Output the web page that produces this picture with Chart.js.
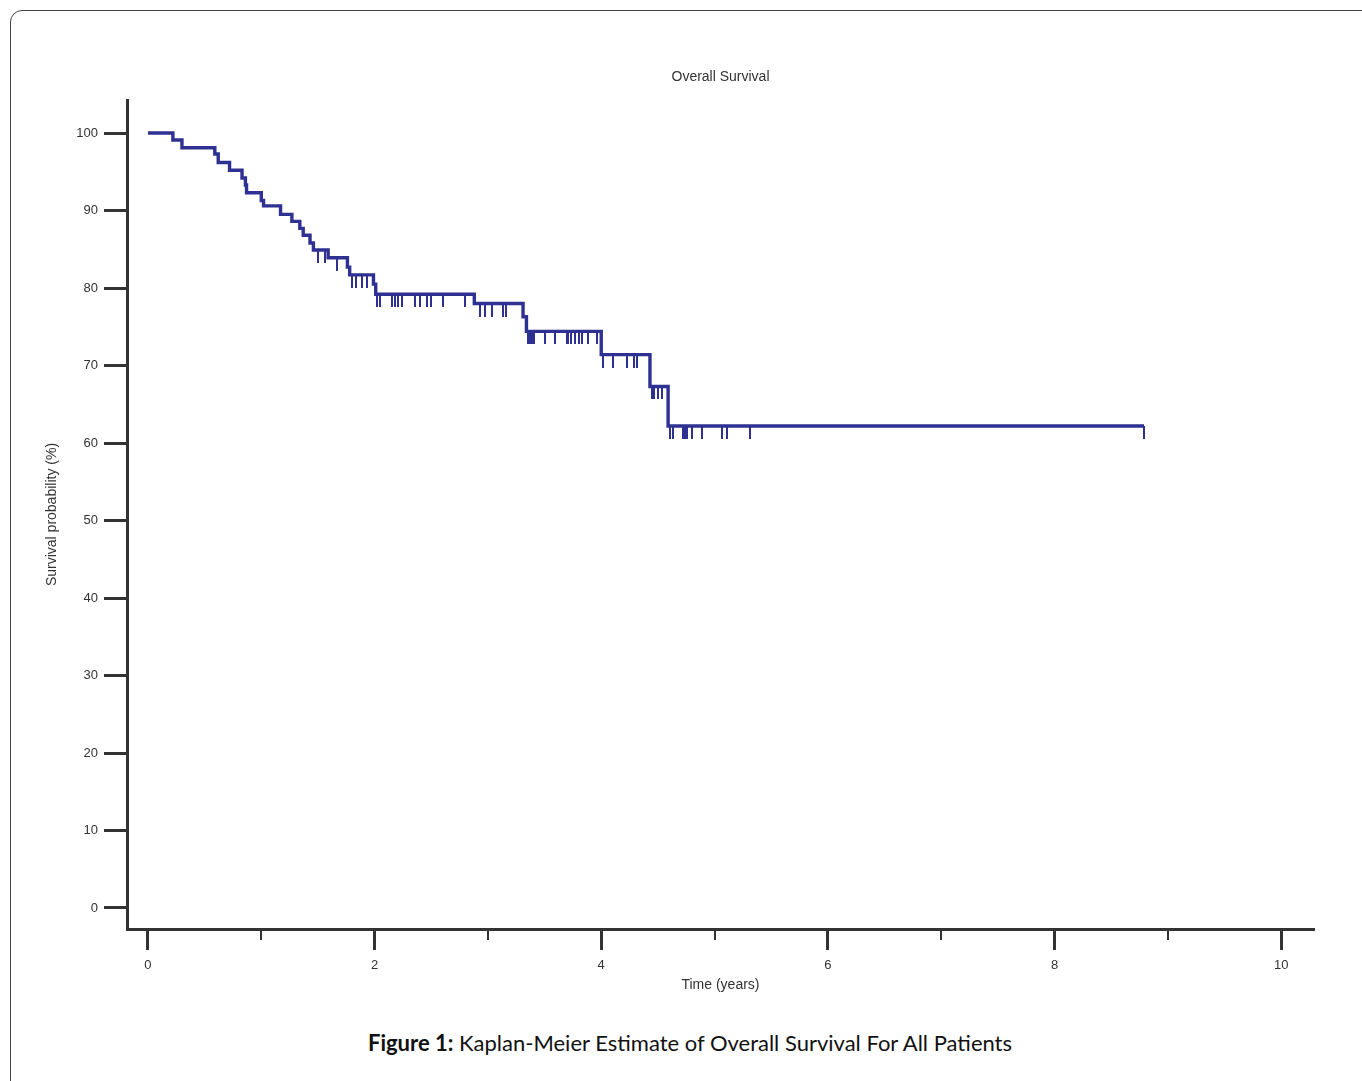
<!DOCTYPE html>
<html>
<head>
<meta charset="utf-8">
<script src="https://cdn.jsdelivr.net/npm/chart.js@4.4.1/dist/chart.umd.min.js"></script>
<style>
  html, body { margin: 0; padding: 0; background: #fff; overflow: hidden; width: 1362px; height: 1081px; }
  #frame { position: absolute; left: 10px; top: 10px; width: 1400px; height: 1120px; border: 1px solid #444; border-radius: 12px; box-sizing: border-box; }
  #wrap { position: absolute; left: 0; top: 0; width: 1362px; height: 1010px; }
  #caption { position: absolute; left: 0; top: 1029px; width: 1380px; text-align: center; font-family: Lato, "Open Sans", sans-serif; font-size: 22px; color: #111; line-height: 28px; }
  #caption b { font-weight: 700; }
</style>
</head>
<body>
<div id="frame"></div>
<div id="wrap"><canvas id="c"></canvas></div>
<div id="caption"><b>Figure 1:</b> Kaplan-Meier Estimate of Overall Survival For All Patients</div>
<script>
// ---- Data ----
const chartTitle = "Overall Survival";
const xAxisTitle = "Time (years)";
const yAxisTitle = "Survival probability (%)";
const xTickValues = [0, 1, 2, 3, 4, 5, 6, 7, 8, 9, 10];
const xTickLabels = ["0", "", "2", "", "4", "", "6", "", "8", "", "10"];
const yTickValues = [0, 10, 20, 30, 40, 50, 60, 70, 80, 90, 100];

// Kaplan-Meier step points: time (years) and survival (%) after the step
const eventTimes = [0, 0.22, 0.30, 0.59, 0.62, 0.72, 0.83, 0.86, 0.87, 1.00, 1.02, 1.17, 1.27, 1.34, 1.37, 1.43, 1.46, 1.59, 1.76, 1.78, 1.99, 2.01, 2.88, 3.31, 3.34, 4.00, 4.43, 4.59, 8.79];
const survival   = [100, 99.1, 98.1, 97.3, 96.2, 95.2, 94.2, 93.3, 92.3, 91.3, 90.6, 89.5, 88.6, 87.7, 86.8, 85.8, 84.9, 83.9, 82.7, 81.7, 80.5, 79.2, 78.0, 76.3, 74.4, 71.4, 67.3, 62.2, 62.2];

// Censoring times (years)
const censorTimes = [1.50, 1.56, 1.67, 1.80, 1.84, 1.89, 1.93,
  2.02, 2.05, 2.15, 2.18, 2.21, 2.24, 2.36, 2.40, 2.46, 2.50, 2.60, 2.80,
  2.93, 2.97, 3.04, 3.13, 3.16,
  3.35, 3.37, 3.39, 3.41, 3.50, 3.59, 3.70, 3.71, 3.73, 3.77, 3.80, 3.83, 3.88, 3.96,
  4.02, 4.10, 4.23, 4.29, 4.32,
  4.45, 4.47, 4.50, 4.54,
  4.61, 4.63, 4.72, 4.74, 4.76, 4.80, 4.89, 5.07, 5.11, 5.31, 8.79];

// ---- Build ----
const curveColor = "#2E3192";
const axisColor = "#333333";
const fontFamily = "'Liberation Sans', Arial, sans-serif";

function survivalAt(t) {
  let s = survival[0];
  for (let i = 0; i < eventTimes.length; i++) {
    if (eventTimes[i] <= t) s = survival[i]; else break;
  }
  return s;
}

const curveData = eventTimes.map((t, i) => ({ x: t, y: survival[i] }));
const censorData = censorTimes.map(t => ({ x: t, y: survivalAt(t) }));

// censor mark: a vertical tick hanging below the point
const tick = document.createElement('canvas');
tick.width = 2; tick.height = 26;
(function () {
  const g = tick.getContext('2d');
  g.fillStyle = curveColor;
  g.fillRect(0, 13, 2, 13);
})();

const extrasPlugin = {
  id: 'extras',
  afterDraw(chart) {
    const { ctx, chartArea, scales } = chart;
    ctx.save();
    // title centred on the plot area
    ctx.fillStyle = axisColor;
    ctx.font = "14px " + fontFamily;
    ctx.textAlign = 'center';
    ctx.textBaseline = 'middle';
    ctx.fillText(chartTitle, (chartArea.left + chartArea.right) / 2, 77);
    // minor x ticks
    ctx.strokeStyle = axisColor;
    ctx.lineWidth = 2;
    xTickValues.forEach((v, i) => {
      if (xTickLabels[i] === "") {
        const px = Math.round(scales.x.getPixelForValue(v));
        ctx.beginPath();
        ctx.moveTo(px, chartArea.bottom);
        ctx.lineTo(px, chartArea.bottom + 11);
        ctx.stroke();
      }
    });
    ctx.restore();
  }
};

new Chart(document.getElementById('c'), {
  type: 'scatter',
  data: {
    datasets: [
      {
        label: 'Overall survival',
        data: curveData,
        showLine: true,
        stepped: true,
        borderColor: curveColor,
        borderWidth: 3.4,
        pointRadius: 0,
        fill: false
      },
      {
        label: 'Censored',
        data: censorData,
        showLine: false,
        pointStyle: tick,
        pointRadius: 13
      }
    ]
  },
  options: {
    responsive: true,
    maintainAspectRatio: false,
    animation: false,
    events: [],
    layout: { padding: { left: 0, right: 48, top: 100, bottom: 11 } },
    plugins: { legend: { display: false }, tooltip: { enabled: false }, title: { display: false } },
    scales: {
      x: {
        type: 'linear',
        min: -0.185,
        max: 10.29,
        afterBuildTicks: s => { s.ticks = xTickValues.map(v => ({ value: v })); },
        afterFit: s => { s.height = 70; },
        ticks: {
          color: axisColor,
          font: { family: fontFamily, size: 13 },
          padding: 8,
          maxRotation: 0,
          autoSkip: false,
          callback: (v) => { const i = xTickValues.indexOf(v); return i >= 0 ? xTickLabels[i] : ""; }
        },
        grid: {
          drawOnChartArea: false,
          drawTicks: true,
          tickLength: 21,
          tickWidth: 3,
          tickColor: ctx => (ctx.tick && xTickLabels[xTickValues.indexOf(ctx.tick.value)] === "") ? 'rgba(0,0,0,0)' : axisColor
        },
        border: { display: true, width: 3, color: axisColor },
        title: { display: true, text: xAxisTitle, color: axisColor, font: { family: fontFamily, size: 14 }, padding: { top: 0, bottom: 5 } }
      },
      y: {
        type: 'linear',
        min: -2.71,
        max: 104.26,
        afterBuildTicks: s => { s.ticks = yTickValues.map(v => ({ value: v })); },
        afterFit: s => { s.width = 127; },
        ticks: {
          color: axisColor,
          font: { family: fontFamily, size: 13 },
          padding: 6,
          autoSkip: false
        },
        grid: {
          drawOnChartArea: false,
          drawTicks: true,
          tickLength: 23,
          tickWidth: 3,
          tickColor: axisColor
        },
        border: { display: true, width: 3, color: axisColor },
        title: { display: true, text: yAxisTitle, color: axisColor, font: { family: fontFamily, size: 14 }, padding: { top: 44, bottom: 0 } }
      }
    }
  },
  plugins: [extrasPlugin]
});
</script>
</body>
</html>
